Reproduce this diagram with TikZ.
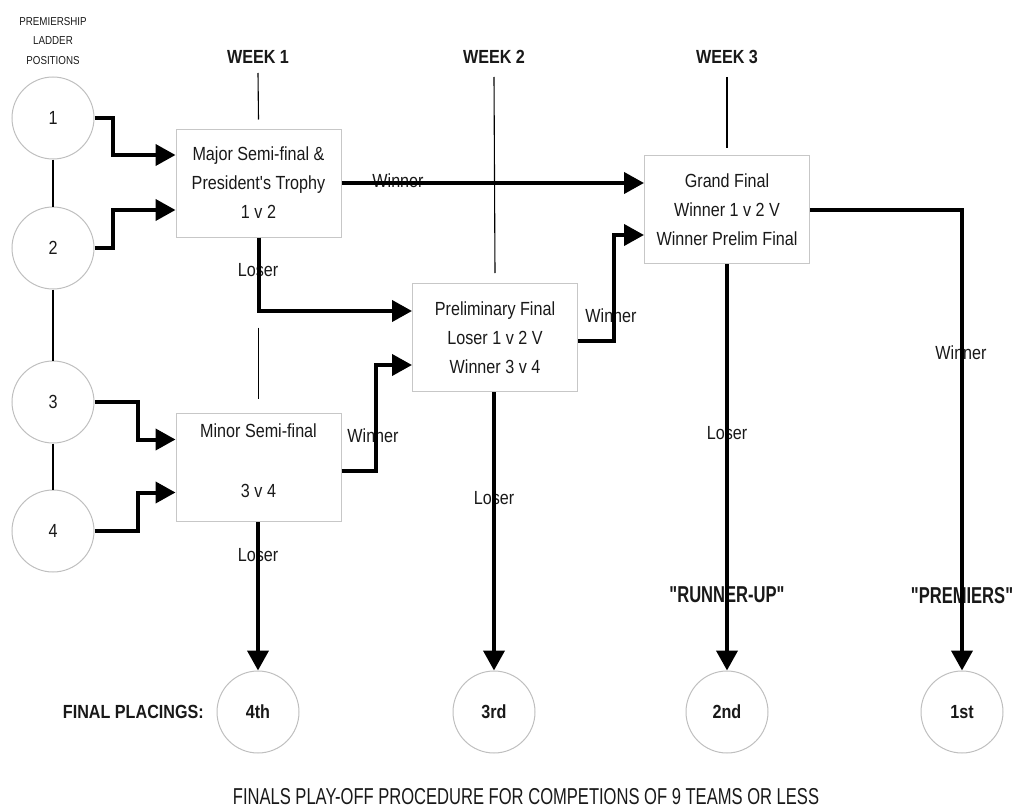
\documentclass[tikz,border=0pt]{standalone}
\usepackage{fontspec}
\setmainfont{Liberation Sans}[FakeStretch=0.85,Ligatures=TeXOff]
\newfontfamily\condfont{Liberation Sans}[FakeStretch=0.72,Ligatures=TeXOff]
\usetikzlibrary{arrows.meta,calc}
\begin{document}
\begin{tikzpicture}[x=1pt,y=-1pt,
  box/.style={draw=black!22,line width=1pt,minimum width=165pt,minimum height=108pt,inner sep=0pt,align=center,font=\fontsize{19}{29}\selectfont},
  ladderpos/.style={draw=black!25,line width=1pt,circle,minimum size=82pt,inner sep=0pt,font=\fontsize{19}{22}\selectfont},
  place/.style={ladderpos,font=\bfseries\fontsize{19}{22}\selectfont},
  arr/.style={line width=4pt,-{Triangle[length=20pt,width=21pt]}},
  wk/.style={line width=1.1pt},
  lbl/.style={inner sep=0pt,font=\fontsize{19}{22}\selectfont},
  head/.style={inner sep=0pt,font=\bfseries\fontsize{19}{22}\selectfont},
  quote/.style={inner sep=0pt,font=\condfont\bfseries\fontsize{23}{25}\selectfont},
  every node/.style={text=black!90}]
\useasboundingbox (0,0) rectangle (1013,808);

% ladder positions
\node[inner sep=0pt,align=center,font=\fontsize{11.5}{19.5}\selectfont] (ladder) at (53,41) {PREMIERSHIP\\LADDER\\POSITIONS};
\node[ladderpos] (c1) at (53,118) {1};
\node[ladderpos] (c2) at (53,248) {2};
\node[ladderpos] (c3) at (53,402) {3};
\node[ladderpos] (c4) at (53,531) {4};
\draw[wk] (c1.south) -- (c2.north);
\draw[wk] (c2.south) -- (c3.north);
\draw[wk] (c3.south) -- (c4.north);

% weeks
\node[head] (w1) at (258,57) {WEEK 1};
\node[head] (w2) at (494,57) {WEEK 2};
\node[head] (w3) at (727,57) {WEEK 3};

% boxes
\node[box] (major) at (258.5,183) {Major Semi-final \&\\President's Trophy\\1 v 2};
\node[box] (minor) at (258.5,467.5) {Minor Semi-final\\[31pt]3 v 4\\[-15pt]\mbox{}};
\node[box] (prelim) at (495,337.5) {Preliminary Final\\Loser 1 v 2 V\\Winner 3 v 4};
\node[box] (grand) at (727,209.5) {Grand Final\\Winner 1 v 2 V\\Winner Prelim Final};

% final placings
\node[place] (p4) at (258,712) {4th};
\node[place] (p3) at (494,712) {3rd};
\node[place] (p2) at (727,712) {2nd};
\node[place] (p1) at (962,712) {1st};
\node[anchor=east,inner sep=0pt,font=\bfseries\fontsize{19}{22}\selectfont] (fp) at (204,712) {FINAL PLACINGS:};
\node[quote] (ru) at (727,595) {"RUNNER-UP"};
\node[quote] (pr) at (962,596) {"PREMIERS"};
\node[inner sep=0pt,font=\condfont\fontsize{23}{25}\selectfont] (title) at (526,797) {FINALS PLAY-OFF PROCEDURE FOR COMPETIONS OF 9 TEAMS OR LESS};

% edge labels
\node[lbl] (lw1) at (398,181) {Winner};
\node[lbl] (lw2) at (373,436) {Winner};
\node[lbl] (lw3) at (611,316) {Winner};
\node[lbl] (lw4) at (961,353) {Winner};
\node[lbl] (ll1) at (258,270) {Loser};
\node[lbl] (ll2) at (494,498) {Loser};
\node[lbl] (ll3) at (727,433) {Loser};
\node[lbl] (ll4) at (258,555) {Loser};

% week lines
\draw[wk] ([yshift=-16pt]w1.center) -- ([yshift=9pt]major.north);
\draw[wk] ([yshift=-90pt]major.south) -- ([yshift=14pt]minor.north);
\draw[wk] ([yshift=-20pt]w2.center) -- ([yshift=10pt]prelim.north);
\draw[wk] ([yshift=-20pt]w3.center) -- ([yshift=7pt]grand.north);

% connectors
\draw[arr] (c1.east) -- ++(18,0) |- ([yshift=28pt]major.west);
\draw[arr] (c2.east) -- ++(18,0) |- ([yshift=-27pt]major.west);
\draw[arr] (c3.east) -- ++(43,0) |- ([yshift=28pt]minor.west);
\draw[arr] (c4.east) -- ++(43,0) |- ([yshift=-25pt]minor.west);
\draw[arr] (major.south) |- ([yshift=26.5pt]prelim.west);
\draw[arr] (major.east) -- (major.east -| grand.west);
\draw[arr] ([yshift=-3.5pt]minor.east) -- ++(34,0) |- ([yshift=-27.5pt]prelim.west);
\draw[arr] ([yshift=-3.5pt]prelim.east) -- ++(36,0) |- ([yshift=-25.5pt]grand.west);
\draw[arr] (grand.east) -| (p1.north);
\draw[arr] (grand.south) -- (p2.north);
\draw[arr] (prelim.south -| p3.north) -- (p3.north);
\draw[arr] (minor.south -| p4.north) -- (p4.north);
\end{tikzpicture}
\end{document}
